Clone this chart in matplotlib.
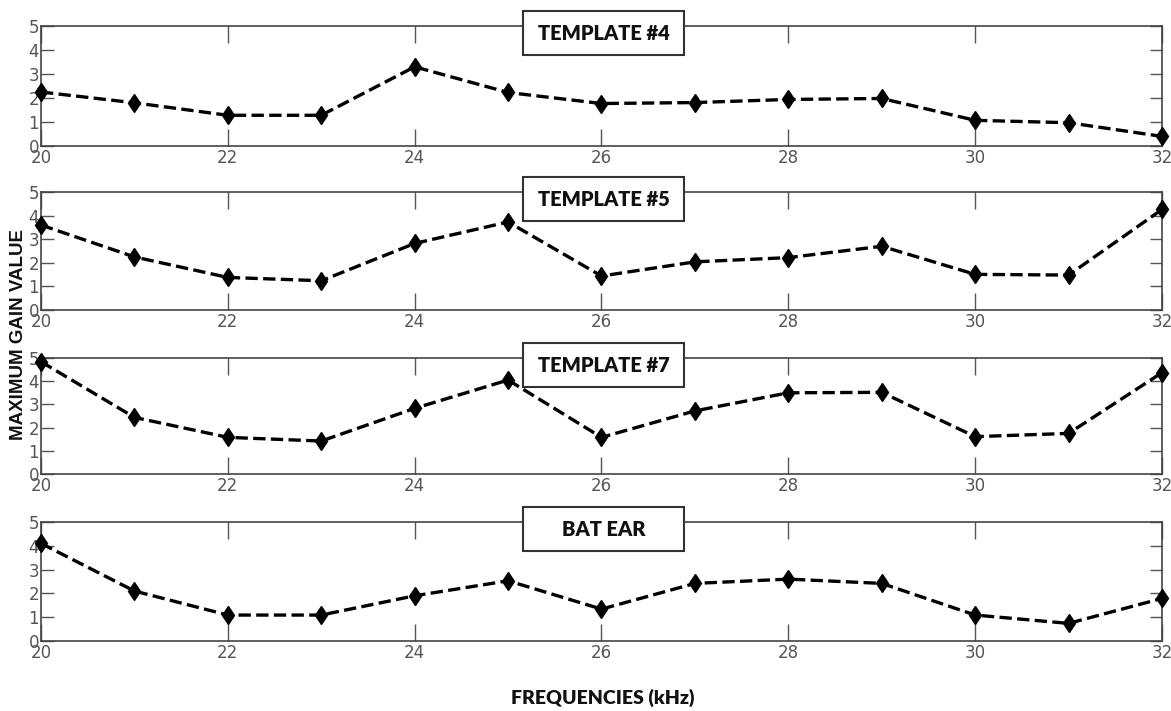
import matplotlib
matplotlib.use("Agg")
import matplotlib.pyplot as plt
from matplotlib.patches import Rectangle

# -- Donnees ------------------------------------------------------------------
freqs = [20, 21, 22, 23, 24, 25, 26, 27, 28, 29, 30, 31, 32]

template4 = [2.25, 1.8, 1.28, 1.28, 3.3, 2.23, 1.77, 1.81, 1.94, 1.98, 1.07, 0.97, 0.4]
template5 = [3.6, 2.25, 1.38, 1.24, 2.82, 3.73, 1.44, 2.04, 2.22, 2.7, 1.51, 1.48, 4.26]
template7 = [4.84, 2.44, 1.58, 1.42, 2.83, 4.05, 1.58, 2.72, 3.5, 3.52, 1.61, 1.75, 4.37]
bat_ear   = [4.1, 2.1, 1.09, 1.09, 1.9, 2.53, 1.34, 2.42, 2.6, 2.42, 1.09, 0.74, 1.79]

titles = ["TEMPLATE #4", "TEMPLATE #5", "TEMPLATE #7", "BAT EAR"]
series = [template4, template5, template7, bat_ear]

xticks = [20, 22, 24, 26, 28, 30, 32]
yticks = [0, 1, 2, 3, 4, 5]

# -- Mise en page (pixels) ----------------------------------------------------
W, H = 1171, 711
left_px, right_px = 41, 1162
panels_px = [(26, 146), (192, 310), (358, 474), (522, 641)]  # (haut, bas)

tick_font = ["Liberation Sans Narrow", "DejaVu Sans"]
grey = "#555555"

fig = plt.figure(figsize=(W / 100, H / 100), dpi=100)

for (top, bot), title, vals in zip(panels_px, titles, series):
    h = bot - top
    ax = fig.add_axes([left_px / W, 1 - bot / H, (right_px - left_px) / W, h / H])
    ax.plot(freqs, vals, color="black", linestyle="--", linewidth=2.4,
            marker="d", markersize=9.5, markerfacecolor="black",
            markeredgecolor="black", clip_on=False, zorder=3)
    ax.set_xlim(20, 32)
    ax.set_ylim(0, 5)
    ax.set_xticks(xticks)
    ax.set_yticks(yticks)
    ax.tick_params(axis="x", direction="in", length=12, width=1, color=grey,
                   top=True, pad=2, labelsize=12, labelcolor=grey)
    ax.tick_params(axis="y", direction="in", length=9, width=1, color=grey,
                   right=True, pad=1.5, labelsize=12, labelcolor=grey)
    for lab in ax.get_xticklabels() + ax.get_yticklabels():
        lab.set_family(tick_font)
    for sp in ax.spines.values():
        sp.set_color("#444444")
        sp.set_linewidth(1.2)

    # boite du titre, a cheval sur le bord superieur
    bw = 161 / (right_px - left_px)
    bx = (523 - left_px) / (right_px - left_px)
    by = 1 - 29 / h
    bh = 44 / h
    ax.add_patch(Rectangle((bx, by), bw, bh, transform=ax.transAxes,
                           facecolor="white", edgecolor="#333333",
                           linewidth=1.5, clip_on=False, zorder=5))
    ax.text(bx + bw / 2, by + bh / 2, title, transform=ax.transAxes,
            ha="center", va="center", fontsize=14.5, fontweight="heavy",
            family=["Lato", "DejaVu Sans"], color="#111111", zorder=6)

fig.text(19 / W, 1 - 334 / H, "MAXIMUM GAIN VALUE", rotation=90,
         ha="center", va="center", fontsize=13.5, fontweight="bold",
         family=["Liberation Sans", "DejaVu Sans"], color="#111111")
fig.text(603 / W, 1 - 698 / H, "FREQUENCIES (kHz)", ha="center", va="center",
         fontsize=14, fontweight="heavy", family=["Lato", "DejaVu Sans"],
         color="#111111")

fig.savefig("out.png", dpi=100, facecolor="white")
plt.close(fig)
